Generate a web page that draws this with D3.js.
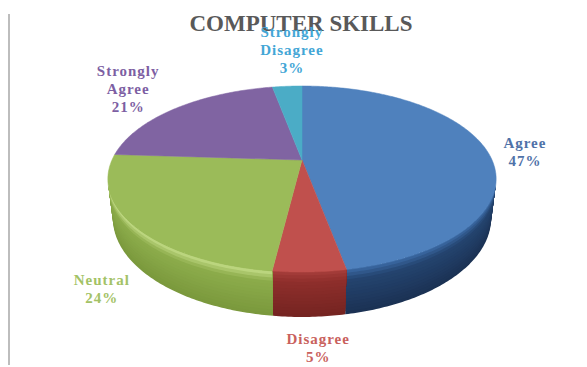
<!DOCTYPE html>
<html>
<head>
<meta charset="utf-8">
<script src="https://cdn.jsdelivr.net/npm/d3@7"></script>
<style>
  html, body { margin: 0; padding: 0; background: #ffffff; }
  svg { display: block; }
</style>
</head>
<body>
<script>
// Survey answers, in clockwise order from 12 o'clock
const categories = ["Agree", "Disagree", "Neutral", "Strongly Agree", "Strongly Disagree"];
const shares = [47, 5, 24, 21, 3];
const chartTitle = "COMPUTER SKILLS";

const W = 587, H = 367;

// Colours: top face, side wall (rim -> middle -> base), label text
const topColors  = ["#4f81bd", "#c0504d", "#9bbb59", "#8064a2", "#4bacc6"];
const sideColors = [
  ["#3b69a4", "#24446f", "#1b3153"],
  ["#a63d3a", "#8e2e2b", "#742320"],
  ["#c4dd88", "#8cac4b", "#7a983c"],
  ["#6c5190", "#5a427a", "#4a3566"],
  ["#3a93ab", "#2d7a8f", "#246678"]
];
const labelColors = ["#4f72a8", "#c9615d", "#a3c266", "#7d5fa3", "#43a6d6"];

// Label placement: reach (fraction of the radius along the slice's middle angle),
// whether it hangs from the base of the wall, and a small pixel nudge
const labelLayout = [
  { reach: 1.2,  base: false, dx: 1,  dy: 2 },
  { reach: 1.2,  base: true,  dx: 7,  dy: 0 },
  { reach: 1.2,  base: true,  dx: 2,  dy: 5 },
  { reach: 1.45, base: false, dx: -1, dy: 0 },
  { reach: 1.65, base: false, dx: 12, dy: 0 }
];

// Perspective camera looking down on a flat disc of radius 1
const cam = { cx: 302, cy: 160, f: 821, D: 4.32, tilt: Math.asin(0.469) };
const thickness = 0.237;
const sT = Math.sin(cam.tilt), cT = Math.cos(cam.tilt);

function project(x, y, z) {
  const depth = y * cT - z * sT + cam.D;
  const up = y * sT + z * cT;
  return [cam.cx + cam.f * x / depth, cam.cy - cam.f * up / depth];
}
const rimPoint = (a, r, z) => project(r * Math.sin(a), r * Math.cos(a), z);

function arcPoints(a0, a1, r, z) {
  const n = Math.max(2, Math.ceil((a1 - a0) / (Math.PI / 240)));
  return d3.range(n + 1).map(i => rimPoint(a0 + (a1 - a0) * i / n, r, z));
}

const svg = d3.select("body").append("svg")
  .attr("width", W).attr("height", H)
  .attr("viewBox", `0 0 ${W} ${H}`);

// thin frame line on the left
svg.append("rect")
  .attr("x", 8).attr("y", 14).attr("width", 2).attr("height", 351)
  .attr("fill", "#bdbdbd");

const pie = d3.pie().sort(null).value(d => d).startAngle(0).endAngle(2 * Math.PI);
const arcs = pie(shares);

// The wall is only visible where it faces the camera
const aLim = Math.acos(-1 / (cam.D * cT));
const aMin = aLim, aMax = 2 * Math.PI - aLim;

const line = d3.line();
const bands = 14;

// Each wall is painted as nested layers hanging from the rim, deepest first,
// so the shading steps blend without seams
const wallG = svg.append("g").attr("class", "walls");
arcs.forEach((arc, i) => {
  const a0 = Math.max(arc.startAngle, aMin);
  const a1 = Math.min(arc.endAngle, aMax);
  if (a0 >= a1) return;
  const shade = d3.scaleLinear().domain([0, 0.22, 1]).range(sideColors[i]).interpolate(d3.interpolateRgb);
  const top = arcPoints(a0, a1, 1, 0);
  for (let j = bands; j >= 1; j--) {
    const zBot = -thickness * j / bands;
    const pts = top.concat(arcPoints(a0, a1, 1, zBot).reverse());
    wallG.append("path")
      .attr("d", line(pts) + "Z")
      .attr("fill", shade((j - 0.5) / bands));
  }
});

// Top faces
const apex = project(0, 0, 0);
svg.append("g").attr("class", "tops")
  .selectAll("path")
  .data(arcs)
  .join("path")
  .attr("d", d => line([apex].concat(arcPoints(d.startAngle, d.endAngle, 1, 0))) + "Z")
  .attr("fill", (d, i) => topColors[i])
  .attr("stroke", (d, i) => topColors[i])
  .attr("stroke-width", 0.5)
  .attr("stroke-linejoin", "round");

// Title
svg.append("text")
  .attr("x", 301).attr("y", 31)
  .attr("text-anchor", "middle")
  .attr("font-family", "'Liberation Serif', 'Times New Roman', serif")
  .attr("font-weight", "bold")
  .attr("font-size", 23)
  .attr("fill", "#595959")
  .text(chartTitle);

// Data labels
const labelG = svg.append("g").attr("class", "labels")
  .attr("font-family", "'Liberation Serif', 'Times New Roman', serif")
  .attr("font-weight", "bold")
  .attr("font-size", 15)
  .attr("letter-spacing", 1)
  .attr("text-anchor", "middle");

arcs.forEach((arc, i) => {
  const mid = (arc.startAngle + arc.endAngle) / 2;
  const L = labelLayout[i];
  const [px, py] = rimPoint(mid, L.reach, L.base ? -thickness : 0);
  const lines = categories[i].split(" ").concat([shares[i] + "%"]);
  const lh = 18;
  const y0 = py + L.dy - (lines.length - 1) * lh / 2 + 5;
  const t = labelG.append("text").attr("fill", labelColors[i]);
  lines.forEach((s, k) => {
    t.append("tspan").attr("x", px + L.dx).attr("y", y0 + k * lh).text(s);
  });
});
</script>
</body>
</html>
